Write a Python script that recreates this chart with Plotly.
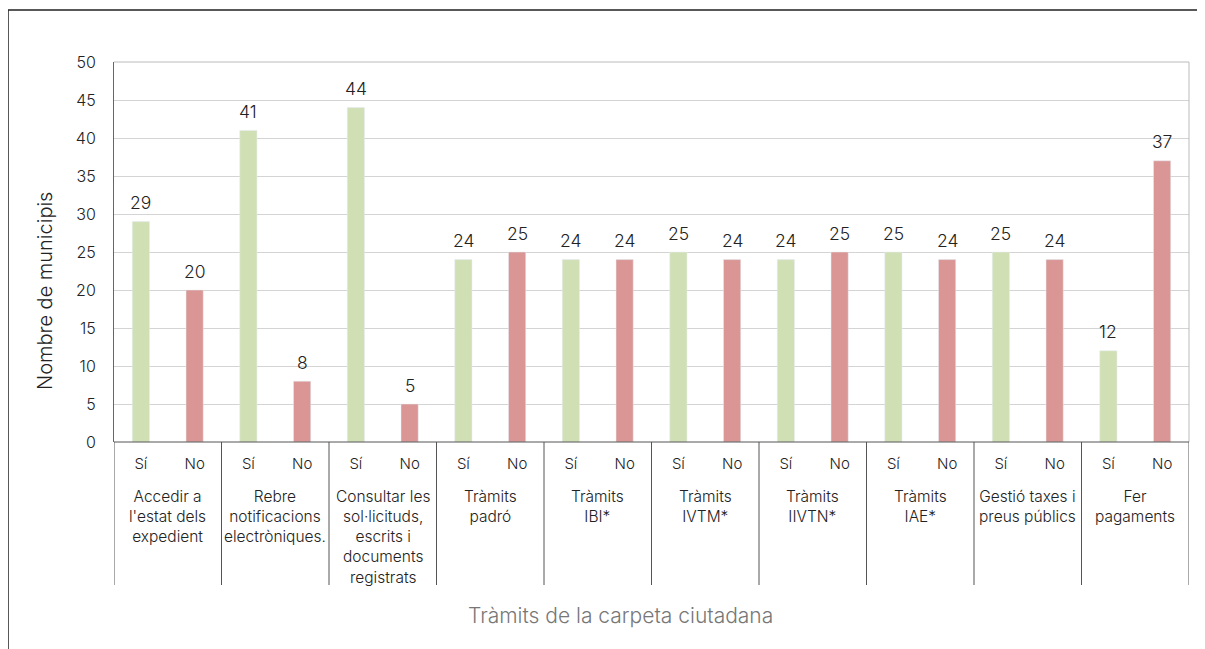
import plotly.graph_objects as go

groups = [
    "Accedir a<br>l'estat dels<br>expedient",
    "Rebre<br>notificacions<br>electròniques.",
    "Consultar les<br>sol·licituds,<br>escrits i<br>documents<br>registrats",
    "Tràmits<br>padró",
    "Tràmits<br>IBI*",
    "Tràmits<br>IVTM*",
    "Tràmits<br>IIVTN*",
    "Tràmits<br>IAE*",
    "Gestió taxes i<br>preus públics",
    "Fer<br>pagaments",
]
si_values = [29, 41, 44, 24, 24, 25, 24, 25, 25, 12]
no_values = [20, 8, 5, 25, 24, 24, 25, 24, 24, 37]
sub_labels = ["Sí", "No"]
y_title = "Nombre de municipis"
x_title = "Tràmits de la carpeta ciutadana"

FONT = "Inter"
W = 300
GREEN = "#D1E0B4"
RED = "#D99694"
TXT = "#222"

n = len(groups)
si_x = [2 * i for i in range(n)]
no_x = [2 * i + 1 for i in range(n)]

fig = go.Figure()
fig.add_trace(go.Bar(x=si_x, y=si_values, marker_color=GREEN, width=0.32, name="Sí"))
fig.add_trace(go.Bar(x=no_x, y=no_values, marker_color=RED, width=0.32, name="No"))

tickvals = list(range(2 * n))
ticktext = [sub_labels[i % 2] for i in tickvals]

fig.update_layout(
    width=1205, height=649,
    margin=dict(l=106, r=24, t=54, b=215),
    plot_bgcolor="white", paper_bgcolor="white",
    showlegend=False, barmode="overlay",
    font=dict(family=FONT, color=TXT, size=16, weight=W),
    xaxis=dict(range=[-0.5, 2 * n - 0.5], tickvals=tickvals, ticktext=ticktext,
               showgrid=False, zeroline=False, showline=False,
               ticks="", tickfont=dict(size=15, color=TXT, family=FONT, weight=W),
               ticklabelstandoff=11),
    yaxis=dict(range=[0, 50], dtick=5, showgrid=True, gridcolor="#D4D4D4",
               gridwidth=1, zeroline=False, showline=True, linecolor="#666",
               linewidth=1, ticks="", ticklabelstandoff=14,
               tickfont=dict(size=16, color=TXT, family=FONT, weight=W)),
)

shapes = []
shapes.append(dict(type="line", xref="paper", yref="paper", x0=0, x1=1, y0=1, y1=1,
                   line=dict(color="#BBBBBB", width=1)))
shapes.append(dict(type="line", xref="paper", yref="paper", x0=1, x1=1, y0=0, y1=1,
                   line=dict(color="#BBBBBB", width=1)))
shapes.append(dict(type="line", xref="paper", yref="paper", x0=0, x1=1, y0=0, y1=0,
                   line=dict(color="#555", width=1)))
sep_bottom = -(585 - 442) / 380
for i in range(n + 1):
    shapes.append(dict(type="line", xref="x", yref="paper", x0=2 * i - 0.5, x1=2 * i - 0.5,
                       y0=0, y1=sep_bottom, line=dict(color="#555", width=1)))
shapes.append(dict(type="rect", xref="paper", yref="paper",
                   x0=(8 - 114) / 1075, x1=(1230 - 114) / 1075,
                   y0=(442 - 670) / 380, y1=(442 - 10) / 380,
                   line=dict(color="#222", width=1.5), fillcolor="rgba(0,0,0,0)"))
fig.update_layout(shapes=shapes)

annotations = []
for xs, vals in ((si_x, si_values), (no_x, no_values)):
    for x, v in zip(xs, vals):
        annotations.append(dict(x=x, y=v, xref="x", yref="y", text=str(v), showarrow=False,
                                yanchor="middle", yshift=19,
                                font=dict(size=17.5, color=TXT, family=FONT, weight=W)))
for i, g in enumerate(groups):
    annotations.append(dict(x=2 * i + 0.5, xref="x", y=-(485 - 442) / 380, yref="paper",
                            text=g, showarrow=False, yanchor="top", xanchor="center",
                            font=dict(size=15.5, color=TXT, family=FONT, weight=W)))
annotations.append(dict(x=(620 - 114) / 1075, xref="paper", y=-(615 - 442) / 380, yref="paper",
                        text=x_title, showarrow=False,
                        yanchor="middle", xanchor="center",
                        font=dict(size=21, color="#777", family=FONT, weight=W)))
annotations.append(dict(x=(45 - 114) / 1075, xref="paper", y=(442 - 291) / 380, yref="paper",
                        text=y_title, showarrow=False, textangle=-90,
                        yanchor="middle", xanchor="center",
                        font=dict(size=20, color=TXT, family=FONT, weight=W)))
fig.update_layout(annotations=annotations)

fig.write_html("out.html")
